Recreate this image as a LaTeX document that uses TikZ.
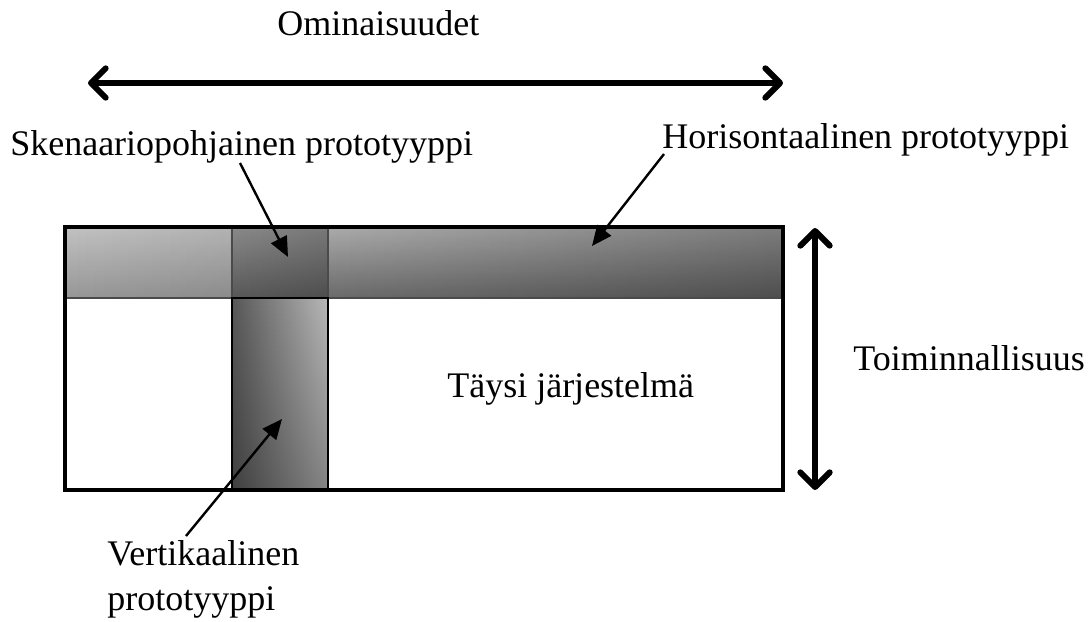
\documentclass[tikz,border=0pt]{standalone}
\usepackage{fontspec}
\setmainfont{Liberation Serif}
\usetikzlibrary{arrows.meta,positioning,fadings}
\definecolor{leftlight}{HTML}{C2C2C2}
\definecolor{leftdark}{HTML}{979797}
\definecolor{midlight}{HTML}{8A8A8A}
\definecolor{middark}{HTML}{585858}
\definecolor{horilight}{HTML}{ABABAB}
\definecolor{horidark}{HTML}{6A6A6A}
\definecolor{vertlight}{HTML}{B8B8B8}
\definecolor{vertdark}{HTML}{585858}
\definecolor{barline}{HTML}{4A4A4A}
\tikzset{
  bigarrow/.style={{Straight Barb[length=11pt,width=22pt,round]}-{Straight Barb[length=11pt,width=22pt,round]},line width=4.5pt},
  pointer/.style={-{Triangle[length=15pt,width=13pt]},line width=1.8pt},
  txt/.style={font=\fontsize{27}{33.75}\selectfont,inner sep=0pt},
  barframe/.style={draw=barline,line width=1.4pt},
  darkeast/.style={fill=black,path fading=west,fill opacity=#1},
  darksouth/.style={fill=black,path fading=north,fill opacity=#1}
}
\begin{document}
\begin{tikzpicture}[x=0.75pt,y=-0.75pt]
\useasboundingbox (0,0) rectangle (1092,621);
% bars
\shade[top color=leftlight,bottom color=leftdark] (65,227) rectangle (232,298);
\fill[darkeast=0.08] (65,227) rectangle (232,298);
\shade[top color=horilight,bottom color=horidark] (328,227) rectangle (783,298);
\fill[darkeast=0.27] (328,227) rectangle (783,298);
\shade[top color=midlight,bottom color=middark] (232,227) rectangle (328,298);
\fill[darkeast=0.12] (232,227) rectangle (328,298);
\shade[left color=vertdark,right color=vertlight] (232,298) rectangle (328,490);
\fill[darksouth=0.28] (232,298) rectangle (328,490);
\draw[barframe] (65,227) rectangle (232,298) (232,227) rectangle (328,298) (328,227) rectangle (783,298);
\draw[black,line width=1.2pt] (232,298) rectangle (328,490);
\draw[line width=3pt] (65,227) rectangle (783,490);
% labels
\node[txt,anchor=base west] (omin) at (277,35) {Ominaisuudet};
\node[txt,anchor=base west] (sken) at (10,155) {Skenaariopohjainen prototyyppi};
\node[txt,anchor=base west] (hori) at (662,148) {Horisontaalinen prototyyppi};
\node[txt,anchor=base west] (toim) at (853,370) {Toiminnallisuus};
\node[txt,anchor=base west] (taysi) at (447,397) {Täysi järjestelmä};
\node[txt,anchor=base west,align=left] (vert) at (107,610) {Vertikaalinen\\prototyyppi};
% double arrows
\coordinate (omL) at (88,83);
\coordinate (omR) at (783,83);
\coordinate (toT) at (815,228);
\coordinate (toB) at (815,490);
\draw[bigarrow] (omL) -- (omR);
\draw[bigarrow] (toT) -- (toB);
% pointers
\coordinate (skenTail) at (240,163);
\coordinate (skenTip) at (288,257);
\coordinate (horiTail) at (664,154);
\coordinate (horiTip) at (592,246);
\coordinate (vertTail) at (186,536);
\coordinate (vertTip) at (282,419);
\draw[pointer] (skenTail) -- (skenTip);
\draw[pointer] (horiTail) -- (horiTip);
\draw[pointer] (vertTail) -- (vertTip);
\end{tikzpicture}
\end{document}
